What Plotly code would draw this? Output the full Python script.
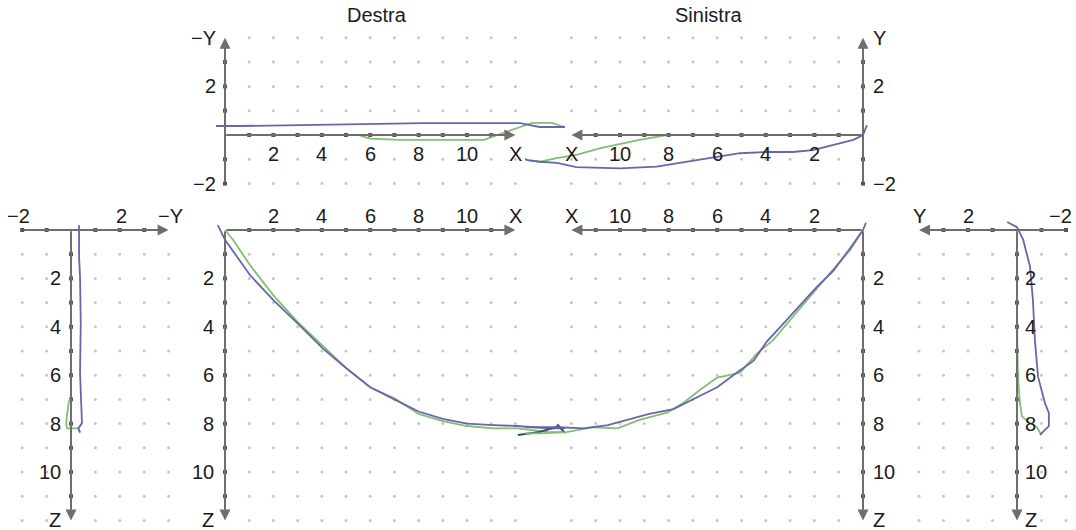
import plotly.graph_objects as go

W, H = 1076, 530

# ---------------- DATA ----------------
# Destra, X-Y view (top left)
d_xy_blue_x = [-0.37, 0.6, 3.1, 5.9, 8.2, 12.2, 12.6, 13.0, 14.05]
d_xy_blue_y = [0.37, 0.37, 0.41, 0.45, 0.49, 0.49, 0.41, 0.33, 0.33]
d_xy_green_x = [0, 5.5, 6.0, 7.2, 10.7, 11.1, 11.4, 12.2, 12.7, 13.5, 13.9, 14.05]
d_xy_green_y = [0, 0, -0.15, -0.2, -0.2, -0.05, 0.05, 0.33, 0.5, 0.5, 0.37, 0.33]
d_xy_dark_x = [4.0, 5.45]
d_xy_dark_y = [0, 0]

# Sinistra, X-Y view (top right)
s_xy_blue_x = [-0.16, 0, 0.4, 0.95, 2.06, 2.9, 3.95, 5.06, 6.0, 7.2, 8.5, 10.0, 10.8, 11.8, 12.6, 13.3, 13.8, 14.2]
s_xy_blue_y = [0.4, 0, -0.2, -0.33, -0.62, -0.7, -0.7, -0.75, -0.9, -1.1, -1.3, -1.37, -1.36, -1.32, -1.15, -1.1, -1.03, -0.9]
s_xy_green_x = [0, 3.0, 4.5, 8.07, 9.2, 10.5, 10.8, 11.8, 12.6, 13.3, 13.8, 14.2]
s_xy_green_y = [0, 0, 0, 0, -0.2, -0.5, -0.54, -0.82, -0.95, -1.1, -1.03, -0.9]
s_xy_dark_x = [3.0, 4.5]
s_xy_dark_y = [0, 0]

# Destra, X-Z view (bottom centre left)
d_xz_blue_x = [-0.3, 0, 1.03, 2.0, 3.0, 4.05, 5.0, 6.0, 7.0, 8.0, 9.0, 10.0, 11.1, 12.07, 13.4, 14.05]
d_xz_blue_z = [-0.2, 0.4, 1.86, 2.9, 3.86, 4.9, 5.7, 6.5, 7.0, 7.5, 7.8, 8.0, 8.06, 8.1, 8.2, 8.2]
d_xz_green_x = [0, 0.33, 1.03, 2.0, 3.0, 4.05, 5.0, 6.0, 7.0, 8.0, 9.0, 10.0, 11.1, 12.07, 13.4, 14.05]
d_xz_green_z = [0, 0.4, 1.45, 2.7, 3.8, 4.8, 5.7, 6.5, 6.95, 7.6, 7.9, 8.1, 8.2, 8.2, 8.35, 8.35]
d_xz_dark_x = [12.1, 13.0, 13.7, 13.76, 14.05]
d_xz_dark_z = [8.47, 8.35, 8.14, 8.06, 8.39]

# Sinistra, X-Z view (bottom centre right)
s_xz_blue_x = [-0.12, 0, 0.53, 1.23, 1.9, 2.6, 3.4, 3.95, 4.5, 5.2, 6.0, 6.8, 7.8, 8.8, 9.7, 10.5, 11.5, 12.5, 13.3, 14.2]
s_xz_blue_z = [-0.3, 0, 0.75, 1.7, 2.35, 3.1, 4.0, 4.6, 5.4, 5.9, 6.5, 6.9, 7.4, 7.6, 7.85, 8.06, 8.2, 8.15, 8.15, 8.15]
s_xz_green_x = [0, 0.53, 1.36, 2.06, 2.9, 3.7, 4.36, 5.06, 6.0, 6.7, 7.4, 8.07, 9.2, 10.1, 11.1, 12.2, 13.3, 14.2]
s_xz_green_z = [0, 0.83, 1.78, 2.6, 3.6, 4.55, 5.1, 5.9, 6.1, 6.6, 7.15, 7.55, 7.85, 8.2, 8.15, 8.35, 8.4, 8.4]

# Destra, Y-Z view (far left)
d_yz_blue_y = [0.33, 0.33, 0.37, 0.4, 0.37, 0.45, 0.3, 0.37]
d_yz_blue_z = [-0.2, 1.1, 1.9, 3.85, 5.9, 7.98, 8.2, 8.35]
d_yz_green_y = [0, 0, -0.1, -0.2, -0.16, 0.3, 0.37]
d_yz_green_z = [0, 6.9, 7.15, 8.0, 8.2, 8.2, 8.4]
d_yz_dark_y = [0, 0]
d_yz_dark_z = [5.0, 7.0]

# Sinistra, Y-Z view (far right)
s_yz_blue_y = [0.4, 0, -0.25, -0.53, -0.65, -0.73, -0.86, -1.14, -1.3, -1.3, -1.14, -0.94]
s_yz_blue_z = [-0.33, -0.12, 0.4, 1.5, 2.9, 4.55, 6.07, 7.15, 7.56, 8.1, 8.26, 8.47]
s_yz_green_y = [0, 0, -0.04, -0.12, -0.2, -0.53, -0.8, -1.0]
s_yz_green_z = [0, 3.85, 6.07, 7.15, 7.7, 7.98, 8.14, 8.47]
s_yz_dark_y = [0, 0]
s_yz_dark_z = [1.0, 3.85]

# tick labels
x_tick_vals = [2, 4, 6, 8, 10, 12]
x_tick_text = ["2", "4", "6", "8", "10", "X"]
z_tick_vals = [2, 4, 6, 8, 10, 12]
z_tick_text = ["2", "4", "6", "8", "10", "Z"]
d_y_tick_vals = [2, -2, 4]
d_y_tick_text = ["2", "\u22122", "\u2212Y"]
s_y_tick_vals = [2, -2, 4]
s_y_tick_text = ["2", "\u22122", "Y"]
d_h_tick_vals = [-2, 2, 4]
d_h_tick_text = ["\u22122", "2", "\u2212Y"]
s_h_tick_vals = [-2, 2, 4]
s_h_tick_text = ["\u22122", "2", "Y"]
titles = ["Destra", "Sinistra"]

# ---------------- STYLE ----------------
BLUE = "#6a64ab"
GREEN = "#84bd74"
DARK = "#34506a"
AXIS = "#6e6e6e"
DOT = "#c6c6c6"
FONT = "Liberation Sans, Arial, sans-serif"
FS = 20

# panels: origin pixel, px per unit, direction, pixel box
panels = [
    dict(ox=225, oy=135, ux=24.2, uy=24.3, xd=1, yd=1, box=(190, 25, 585, 200)),    # TL
    dict(ox=863, oy=135, ux=24.3, uy=24.3, xd=-1, yd=1, box=(525, 25, 905, 200)),   # TR
    dict(ox=225, oy=230, ux=24.2, uy=24.2, xd=1, yd=-1, box=(190, 205, 585, 530)),  # BCL
    dict(ox=863, oy=230, ux=24.3, uy=24.2, xd=-1, yd=-1, box=(525, 205, 905, 530)), # BCR
    dict(ox=71, oy=230, ux=24.4, uy=24.2, xd=1, yd=-1, box=(0, 205, 190, 530)),     # L
    dict(ox=1017, oy=230, ux=24.5, uy=24.2, xd=-1, yd=-1, box=(905, 205, 1076, 530)),  # R
]

fig = go.Figure()
layout = {}
annotations = []


def refs(i):
    return ("x" if i == 1 else f"x{i}"), ("y" if i == 1 else f"y{i}")


for i, p in enumerate(panels, start=1):
    l, t, r, b = p["box"]
    xr = [(l - p["ox"]) / (p["xd"] * p["ux"]), (r - p["ox"]) / (p["xd"] * p["ux"])]
    yr = [(p["oy"] - b) / (p["yd"] * p["uy"]), (p["oy"] - t) / (p["yd"] * p["uy"])]
    xk = "xaxis" if i == 1 else f"xaxis{i}"
    yk = "yaxis" if i == 1 else f"yaxis{i}"
    xa, ya = refs(i)
    layout[xk] = dict(domain=[l / W, r / W], range=xr, visible=False, fixedrange=True, anchor=ya)
    layout[yk] = dict(domain=[1 - b / H, 1 - t / H], range=yr, visible=False, fixedrange=True, anchor=xa)


def line(i, xs, ys, color, width=1.8):
    xa, ya = refs(i)
    fig.add_trace(go.Scatter(x=xs, y=ys, mode="lines", line=dict(color=color, width=width),
                             xaxis=xa, yaxis=ya, hoverinfo="skip", showlegend=False))


def dots(i, xs, ys):
    gx = [x for x in xs for y in ys]
    gy = [y for x in xs for y in ys]
    xa, ya = refs(i)
    fig.add_trace(go.Scatter(x=gx, y=gy, mode="markers", marker=dict(color=DOT, size=3),
                             xaxis=xa, yaxis=ya, hoverinfo="skip", showlegend=False))


def ticks(i, xs, ys):
    xa, ya = refs(i)
    fig.add_trace(go.Scatter(x=xs, y=ys, mode="markers",
                             marker=dict(color="#555555", size=4, symbol="square"),
                             xaxis=xa, yaxis=ya, hoverinfo="skip", showlegend=False))


def arrow(i, x0, y0, x1, y1):
    xa, ya = refs(i)
    annotations.append(dict(x=x1, y=y1, ax=x0, ay=y0, xref=xa, yref=ya, axref=xa, ayref=ya,
                            text="", showarrow=True, arrowhead=2, arrowsize=1.1,
                            arrowwidth=2, arrowcolor=AXIS))


def label(i, x, y, text, xanchor="center", xshift=0, yshift=0):
    xa, ya = refs(i)
    annotations.append(dict(x=x, y=y, xref=xa, yref=ya, text=text, showarrow=False,
                            xanchor=xanchor, yanchor="middle", xshift=xshift, yshift=yshift,
                            font=dict(family=FONT, size=FS, color="#1a1a1a")))


rng12 = list(range(1, 13))
hv = [-2, -1, 1, 2, 3, 4]

# ---- grid dots ----
dots(1, rng12, hv)
dots(2, rng12, hv)
dots(3, rng12, rng12)
dots(4, rng12, rng12)
dots(5, hv, rng12)
dots(6, hv, rng12)

# ---- axes ----
for i in (1, 2):
    arrow(i, 0, 0, 12, 0)
    arrow(i, 0, -2, 0, 4)
    ticks(i, list(range(1, 12)), [0] * 11)
    ticks(i, [0] * 5, [-2, -1, 1, 2, 3])
for i in (3, 4):
    arrow(i, 0, 0, 12, 0)
    arrow(i, 0, 0, 0, 12)
    ticks(i, list(range(1, 12)), [0] * 11)
    ticks(i, [0] * 11, list(range(1, 12)))
for i in (5, 6):
    arrow(i, -2, 0, 4, 0)
    arrow(i, 0, 0, 0, 12)
    ticks(i, [-2, -1, 1, 2, 3], [0] * 5)
    ticks(i, [0] * 11, list(range(1, 12)))

# ---- curves ----
line(1, d_xy_green_x, d_xy_green_y, GREEN)
line(1, d_xy_blue_x, d_xy_blue_y, BLUE)
line(1, d_xy_dark_x, d_xy_dark_y, DARK, 2)
line(2, s_xy_green_x, s_xy_green_y, GREEN)
line(2, s_xy_blue_x, s_xy_blue_y, BLUE)
line(2, s_xy_dark_x, s_xy_dark_y, DARK, 2)
line(3, d_xz_green_x, d_xz_green_z, GREEN)
line(3, d_xz_blue_x, d_xz_blue_z, BLUE)
line(3, d_xz_dark_x, d_xz_dark_z, DARK, 2)
line(4, s_xz_green_x, s_xz_green_z, GREEN)
line(4, s_xz_blue_x, s_xz_blue_z, BLUE)
line(5, d_yz_green_y, d_yz_green_z, GREEN)
line(5, d_yz_blue_y, d_yz_blue_z, BLUE)
line(5, d_yz_dark_y, d_yz_dark_z, DARK, 2)
line(6, s_yz_green_y, s_yz_green_z, GREEN)
line(6, s_yz_blue_y, s_yz_blue_z, BLUE)
line(6, s_yz_dark_y, s_yz_dark_z, DARK, 2)

# ---- tick labels ----
for v, t in zip(x_tick_vals, x_tick_text):
    label(1, v, 0, t, yshift=-19)
    label(2, v, 0, t, yshift=-19)
    label(3, v, 0, t, yshift=14)
    label(4, v, 0, t, yshift=14)
for v, t in zip(d_y_tick_vals, d_y_tick_text):
    label(1, 0, v, t, xanchor="right", xshift=-7)
for v, t in zip(s_y_tick_vals, s_y_tick_text):
    label(2, 0, v, t, xanchor="left", xshift=8)
for v, t in zip(z_tick_vals, z_tick_text):
    label(3, 0, v, t, xanchor="right", xshift=-9)
    label(4, 0, v, t, xanchor="left", xshift=8)
    label(5, 0, v, t, xanchor="right", xshift=-8)
    label(6, 0, v, t, xanchor="left", xshift=6)
for v, t in zip(d_h_tick_vals, d_h_tick_text):
    label(5, v, 0, t, yshift=14, xshift=(-4 if v == -2 else 2))
for v, t in zip(s_h_tick_vals, s_h_tick_text):
    label(6, v, 0, t, yshift=14, xshift=(-6 if v == -2 else 0))

# ---- titles ----
for tx, px in zip(titles, [377, 709]):
    annotations.append(dict(x=px / W, y=1 - 15 / H, xref="paper", yref="paper", text=tx,
                            showarrow=False, xanchor="center", yanchor="middle",
                            font=dict(family=FONT, size=FS, color="#1a1a1a")))

fig.update_layout(width=W, height=H, margin=dict(l=0, r=0, t=0, b=0),
                  paper_bgcolor="white", plot_bgcolor="rgba(0,0,0,0)",
                  showlegend=False, annotations=annotations, **layout)

fig.write_html("out.html", config={"displayModeBar": False},
               post_script="document.body.style.margin='0';document.body.style.overflow='hidden';")
